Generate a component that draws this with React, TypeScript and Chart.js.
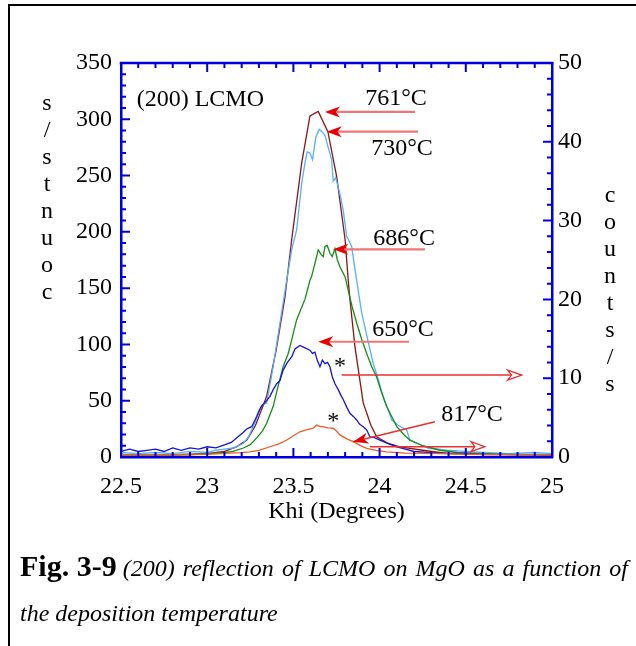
import React, { useEffect, useRef } from 'react';
import { Chart, registerables } from 'chart.js';

Chart.register(...registerables);

// ---- data (x in degrees, y in counts/s) ----
// left-axis series (0-350)
const s761: [number, number][] = [
  [22.5, 2], [22.8, 2], [23.0, 3], [23.1, 5], [23.17, 9], [23.23, 15], [23.28, 28], [23.345, 54],
  [23.4, 95], [23.451, 142], [23.49, 193], [23.548, 261], [23.596, 303], [23.644, 307], [23.7, 289],
  [23.751, 249], [23.8, 193], [23.818, 157], [23.828, 140], [23.857, 98], [23.905, 48], [23.95, 28],
  [23.983, 18], [24.05, 12], [24.118, 9], [24.25, 6], [24.4, 3], [24.7, 2.5], [25.0, 2],
];
const s730: [number, number][] = [
  [22.5, 4], [22.6, 3], [22.7, 4], [22.8, 3], [22.9, 5], [23.0, 4], [23.05, 6], [23.1, 7], [23.15, 8],
  [23.21, 12], [23.24, 18], [23.267, 27], [23.29, 35], [23.316, 46], [23.345, 48], [23.38, 78],
  [23.42, 117], [23.461, 157], [23.49, 184], [23.519, 202], [23.548, 243], [23.567, 261], [23.58, 271],
  [23.596, 270], [23.611, 264], [23.63, 284], [23.65, 291], [23.658, 290], [23.683, 286], [23.7, 276],
  [23.722, 264], [23.731, 245], [23.745, 248], [23.76, 240], [23.775, 230], [23.789, 219], [23.809, 196],
  [23.82, 193], [23.838, 187], [23.852, 172], [23.867, 157], [23.896, 128], [23.93, 105], [23.963, 83],
  [23.99, 70], [24.02, 54], [24.05, 42], [24.07, 33], [24.11, 28], [24.157, 24], [24.176, 15],
  [24.22, 12], [24.28, 8], [24.39, 6], [24.5, 5], [24.6, 4], [24.75, 3], [24.9, 4], [25.0, 3],
];
const s686: [number, number][] = [
  [22.5, 2], [22.7, 2], [22.9, 2], [23.0, 3], [23.1, 4], [23.15, 5], [23.21, 8], [23.25, 11],
  [23.287, 17], [23.32, 23], [23.345, 30], [23.383, 45], [23.41, 62], [23.44, 80], [23.47, 92],
  [23.49, 104], [23.519, 122], [23.545, 132], [23.567, 140], [23.596, 157], [23.605, 160], [23.625, 172],
  [23.644, 184], [23.66, 180], [23.673, 178], [23.683, 187], [23.696, 188], [23.712, 181], [23.725, 178],
  [23.741, 185], [23.755, 175], [23.77, 169], [23.8, 160], [23.818, 148], [23.84, 134], [23.867, 119],
  [23.895, 105], [23.925, 92], [23.955, 80], [23.983, 71], [24.01, 58], [24.04, 45], [24.07, 36],
  [24.1, 27], [24.14, 20], [24.176, 15], [24.25, 10], [24.35, 6], [24.45, 4], [24.6, 3], [24.8, 2], [25.0, 2],
];
// right-axis series (0-50)
const s650: [number, number][] = [
  [22.5, 0.7], [22.55, 1.0], [22.6, 0.7], [22.65, 0.85], [22.7, 1.0], [22.75, 0.7], [22.8, 1.15],
  [22.85, 0.85], [22.9, 1.15], [22.95, 1.0], [23.0, 1.3], [23.05, 1.15], [23.1, 1.55], [23.14, 1.85],
  [23.17, 2.4], [23.21, 3.15], [23.229, 3.55], [23.258, 3.85], [23.287, 5.15], [23.3, 5.85],
  [23.316, 6.45], [23.325, 6.7], [23.345, 7.15], [23.364, 7.7], [23.383, 8.55], [23.403, 9.3],
  [23.422, 9.7], [23.44, 11.0], [23.465, 12.0], [23.49, 12.7], [23.509, 13.7], [23.538, 14.15],
  [23.567, 13.85], [23.596, 13.55], [23.61, 13.15], [23.625, 13.3], [23.638, 12.3], [23.654, 11.45],
  [23.668, 12.3], [23.683, 11.85], [23.698, 12.0], [23.712, 11.45], [23.726, 10.15], [23.741, 9.3],
  [23.76, 8.55], [23.775, 7.85], [23.789, 7.3], [23.81, 6.3], [23.828, 5.55], [23.848, 5.15],
  [23.867, 4.7], [23.885, 4.15], [23.905, 3.85], [23.925, 3.45], [23.944, 2.55], [23.97, 2.45],
  [24.002, 2.15], [24.05, 1.7], [24.1, 1.3], [24.15, 1.0], [24.2, 0.7], [24.3, 0.55], [24.4, 0.45],
  [24.5, 0.45], [24.6, 0.3], [24.8, 0.3], [25.0, 0.3],
];
const s817: [number, number][] = [
  [22.5, 0.3], [22.7, 0.3], [22.9, 0.3], [23.0, 0.35], [23.1, 0.45], [23.2, 0.55], [23.248, 0.65],
  [23.3, 0.85], [23.364, 1.3], [23.42, 1.7], [23.461, 2.15], [23.5, 2.7], [23.538, 3.2], [23.575, 3.45],
  [23.615, 3.65], [23.635, 4.05], [23.654, 3.85], [23.673, 3.85], [23.7, 3.7], [23.731, 3.65],
  [23.75, 3.3], [23.77, 2.8], [23.81, 2.3], [23.847, 1.95], [23.89, 1.45], [23.925, 1.1], [23.98, 0.85],
  [24.04, 0.65], [24.15, 0.5], [24.3, 0.45], [24.5, 0.35], [24.7, 0.3], [25.0, 0.3],
];

const xTickStep = 0.5;
const yLeftStep = 50;
const yRightStep = 10;

// annotations (data coords, left axis units)
const tempLabels = ['761°C', '730°C', '686°C', '650°C', '817°C'];
const tempLabelPos: [number, number][] = [
  [24.095, 318], [24.13, 273.6], [24.142, 193.7], [24.136, 112.8], [24.536, 37.3],
];
const tempArrows: [number, number, number, number][] = [
  [24.205, 306.5, 23.683, 306.5],
  [24.223, 289.0, 23.693, 289.0],
  [24.263, 184.5, 23.731, 184.5],
  [24.171, 102.4, 23.644, 102.4],
];
const arrow817: [number, number, number, number] = [24.321, 31.4, 23.847, 13.6];
const starPos: [number, number][] = [[23.77, 79.9], [23.731, 31.4]];
const starArrows: [number, number, number, number][] = [
  [23.78, 72.8, 24.824, 72.8],
  [23.944, 9.15, 24.611, 9.15],
];
const sampleLabel = '(200) LCMO';
const sampleLabelPos: [number, number] = [22.591, 317];
const leftTitle = ['s', '/', 's', 't', 'n', 'u', 'o', 'c'];
const rightTitle = ['c', 'o', 'u', 'n', 't', 's', '/', 's'];
const xTitle = 'Khi (Degrees)';
const captionBold = 'Fig. 3-9';
const captionLine1 = '(200) reflection of LCMO on MgO as a function of';
const captionLine2 = 'the deposition temperature';

const AXIS = '#0000dd';
const FONT = '"Liberation Serif", "Times New Roman", serif';

function drawHead(ctx: CanvasRenderingContext2D, x1: number, y1: number, x2: number, y2: number,
  len: number, w: number, open: boolean, color: string) {
  const a = Math.atan2(y2 - y1, x2 - x1);
  const dx = Math.cos(a), dy = Math.sin(a);
  const px = -dy, py = dx;
  const bx = x2 - dx * len, by = y2 - dy * len;
  const nx = x2 - dx * len * 0.72, ny = y2 - dy * len * 0.72;
  ctx.beginPath();
  ctx.moveTo(x2, y2);
  ctx.lineTo(bx + px * w, by + py * w);
  ctx.lineTo(nx, ny);
  ctx.lineTo(bx - px * w, by - py * w);
  ctx.closePath();
  if (open) {
    ctx.fillStyle = '#fff';
    ctx.fill();
    ctx.strokeStyle = color;
    ctx.lineWidth = 1.3;
    ctx.stroke();
  } else {
    ctx.fillStyle = color;
    ctx.fill();
  }
}

const decoPlugin = {
  id: 'deco',
  afterDraw(chart: any) {
    const { ctx, chartArea: ca, scales } = chart;
    const sx = scales.x, sy = scales.y, sy1 = scales.y1;
    const X = (v: number) => sx.getPixelForValue(v);
    const Y = (v: number) => sy.getPixelForValue(v);
    ctx.save();
    // frame
    ctx.strokeStyle = '#000';
    ctx.lineWidth = 2;
    ctx.beginPath();
    ctx.moveTo(9, 646);
    ctx.lineTo(9, 5);
    ctx.lineTo(636, 5);
    ctx.stroke();

    // top border of plot
    ctx.strokeStyle = AXIS;
    ctx.lineWidth = 2.5;
    ctx.beginPath();
    ctx.moveTo(ca.left - 1.25, ca.top);
    ctx.lineTo(ca.right + 1.25, ca.top);
    ctx.stroke();

    // ticks
    ctx.lineWidth = 2;
    ctx.beginPath();
    for (let i = 0; i <= 25; i++) {
      const px = X(22.5 + i * 0.1);
      const len = i % 5 === 0 ? 9 : 5;
      ctx.moveTo(px, ca.bottom); ctx.lineTo(px, ca.bottom - len);
      ctx.moveTo(px, ca.top); ctx.lineTo(px, ca.top + len);
    }
    for (let i = 0; i <= 35; i++) {
      const py = Y(i * 10);
      const len = i % 5 === 0 ? 9 : 5;
      ctx.moveTo(ca.left, py); ctx.lineTo(ca.left + len, py);
    }
    for (let i = 0; i <= 25; i++) {
      const py = sy1.getPixelForValue(i * 2);
      const len = i % 5 === 0 ? 9 : 5;
      ctx.moveTo(ca.right, py); ctx.lineTo(ca.right - len, py);
    }
    ctx.stroke();

    // axis titles (stacked letters)
    ctx.fillStyle = '#000';
    ctx.font = `24px ${FONT}`;
    ctx.textAlign = 'center';
    ctx.textBaseline = 'middle';
    leftTitle.forEach((c, i) => ctx.fillText(c, 47, 104 + i * 27));
    rightTitle.forEach((c, i) => ctx.fillText(c, 610, 196 + i * 27));

    // sample label
    ctx.textAlign = 'left';
    ctx.fillText(sampleLabel, X(sampleLabelPos[0]), Y(sampleLabelPos[1]));

    // temperature labels
    ctx.textAlign = 'center';
    tempLabels.forEach((t, i) => ctx.fillText(t, X(tempLabelPos[i][0]), Y(tempLabelPos[i][1])));
    // stars
    starPos.forEach(([a, b]) => ctx.fillText('*', X(a), Y(b)));

    // temperature arrows
    tempArrows.forEach(([a, b, c, d]) => {
      const x1 = X(a), y1 = Y(b), x2 = X(c), y2 = Y(d);
      ctx.strokeStyle = '#f07575';
      ctx.lineWidth = 2.2;
      ctx.beginPath();
      ctx.moveTo(x1, y1);
      ctx.lineTo(x2 + 8, y2);
      ctx.stroke();
      drawHead(ctx, x1, y1, x2, y2, 15, 5.5, false, '#e80000');
    });
    // 817 arrow
    {
      const x1 = X(arrow817[0]), y1 = Y(arrow817[1]), x2 = X(arrow817[2]), y2 = Y(arrow817[3]);
      ctx.strokeStyle = '#e83030';
      ctx.lineWidth = 1.5;
      ctx.beginPath();
      ctx.moveTo(x1, y1);
      ctx.lineTo(x2, y2);
      ctx.stroke();
      drawHead(ctx, x1, y1, x2, y2, 15, 5.5, false, '#e80000');
    }
    // star arrows (open heads)
    starArrows.forEach(([a, b, c, d]) => {
      const x1 = X(a), y1 = Y(b), x2 = X(c), y2 = Y(d);
      ctx.strokeStyle = '#e83030';
      ctx.lineWidth = 1.5;
      ctx.beginPath();
      ctx.moveTo(x1, y1);
      ctx.lineTo(x2 - 10, y2);
      ctx.stroke();
      drawHead(ctx, x1, y1, x2, y2, 14, 5, true, '#e83030');
    });

    // caption
    ctx.textAlign = 'left';
    ctx.textBaseline = 'alphabetic';
    ctx.fillStyle = '#000';
    ctx.font = `bold 30px ${FONT}`;
    ctx.fillText(captionBold, 20, 576);
    const startX = 20 + ctx.measureText(captionBold).width + 6;
    ctx.font = `italic 24px ${FONT}`;
    // justified first line
    const words = captionLine1.split(' ');
    const widths = words.map((wd) => ctx.measureText(wd).width);
    const total = widths.reduce((s, v) => s + v, 0);
    const gap = (628 - startX - total) / (words.length - 1);
    let cx = startX;
    words.forEach((wd, i) => {
      ctx.fillText(wd, cx, 576);
      cx += widths[i] + gap;
    });
    ctx.fillText(captionLine2, 20, 621);
    ctx.restore();
  },
};

function toXY(arr: [number, number][]) {
  return arr.map(([x, y]) => ({ x, y }));
}

export default function App() {
  const ref = useRef<HTMLCanvasElement | null>(null);
  useEffect(() => {
    if (!ref.current) return;
    const tickFont = { family: FONT, size: 24 };
    const chart = new Chart(ref.current, {
      type: 'line',
      data: {
        datasets: [
          { label: '817°C', data: toXY(s817), yAxisID: 'y1', borderColor: '#f05a28' },
          { label: '650°C', data: toXY(s650), yAxisID: 'y1', borderColor: '#1414d2' },
          { label: '686°C', data: toXY(s686), yAxisID: 'y', borderColor: '#168c16' },
          { label: '730°C', data: toXY(s730), yAxisID: 'y', borderColor: '#55b0ff' },
          { label: '761°C', data: toXY(s761), yAxisID: 'y', borderColor: '#8c1414' },
        ].map((d) => ({ ...d, borderWidth: 1.3, pointRadius: 0, tension: 0, fill: false })) as any,
      },
      options: {
        animation: false,
        responsive: false,
        devicePixelRatio: 1,
        layout: { padding: { top: 63, left: 0, right: 0, bottom: 0 } },
        plugins: { legend: { display: false }, tooltip: { enabled: false } },
        scales: {
          x: {
            type: 'linear',
            min: 22.5,
            max: 25,
            afterFit: (s: any) => { s.height = 189; },
            grid: { display: false, drawTicks: false },
            border: { color: AXIS, width: 2.5 },
            ticks: {
              stepSize: xTickStep, color: '#000', font: tickFont, padding: 15, maxRotation: 0,
              callback: (v: any) => String(Math.round(Number(v) * 10) / 10),
            },
            title: { display: true, text: xTitle, color: '#000', font: tickFont, padding: { top: 0, bottom: 120 } },
          },
          y: {
            type: 'linear',
            position: 'left',
            min: 0,
            max: 350,
            afterFit: (s: any) => { s.width = 121; },
            grid: { display: false, drawTicks: false },
            border: { color: AXIS, width: 2.5 },
            ticks: { stepSize: yLeftStep, color: '#000', font: tickFont, padding: 9 },
          },
          y1: {
            type: 'linear',
            position: 'right',
            min: 0,
            max: 50,
            afterFit: (s: any) => { s.width = 84; },
            grid: { display: false, drawTicks: false },
            border: { color: AXIS, width: 2.5 },
            ticks: { stepSize: yRightStep, color: '#000', font: tickFont, padding: 6 },
          },
        },
      } as any,
      plugins: [decoPlugin],
    });
    return () => chart.destroy();
  }, []);
  return (
    <div style={{ position: 'fixed', left: 0, top: 0, width: 636, height: 646, background: '#fff' }}>
      <canvas ref={ref} width={636} height={646} style={{ display: 'block' }} />
    </div>
  );
}
